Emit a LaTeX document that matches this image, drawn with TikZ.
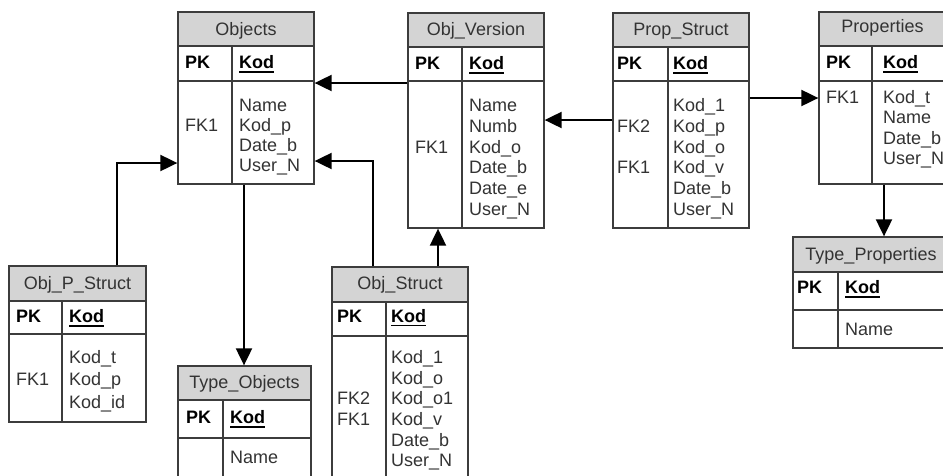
\documentclass[tikz,border=0pt]{standalone}
\usepackage{fontspec}
\setmainfont{Liberation Sans}
\usetikzlibrary{arrows.meta,fit}
\definecolor{hdrfill}{HTML}{D4D4D4}
\definecolor{frame}{HTML}{3C3C3C}
\definecolor{txt}{HTML}{333333}
\tikzset{
  tblbox/.style={draw=frame, line width=1.3pt, inner sep=0pt},
  tblline/.style={draw=frame, line width=1.3pt},
  cell/.style={inner sep=0pt, anchor=base west, text=txt, font=\fontsize{18}{20}\selectfont},
  keycell/.style={inner sep=0pt, anchor=base west, text=black, font=\fontsize{18}{20}\selectfont\bfseries},
  ttl/.style={inner sep=0pt, anchor=base, text=txt, font=\fontsize{18}{20}\selectfont},
  conn/.style={draw=black, line width=2pt, -{Triangle[length=17pt,width=16pt]}},
}
% table frame: id, x0, y0, x1, y1, header bottom, key row bottom, column divider
\newcommand\tblframe[8]{%
  \fill[hdrfill] (#2,#3) rectangle (#4,#6);
  \draw[tblline] (#2,#6) -- (#4,#6) (#2,#7) -- (#4,#7) (#8,#6) -- (#8,#5);
  \node[tblbox, fit={(#2,#3)(#4,#5)}] (#1) {};
}
% column of attribute names: id, x, first baseline, line step, entries
\newcommand\cells[5]{%
  \foreach \entry [count=\i from 0] in {#5}
    \node[cell] (#1-\i) at (#2,{#3+\i*#4}) {\entry};
}
\newbox\kodbox
\newcommand\kodul{\setbox\kodbox\hbox{Kod}\rlap{\rule[-4.2pt]{\wd\kodbox}{1.6pt}}\box\kodbox}

\begin{document}
\begin{tikzpicture}[x=1pt,y=-1pt]
\useasboundingbox (0,0) rectangle (943,475);
\fill[white] (0,0) rectangle (943,475);
\clip (0,0) rectangle (943,475);

% Objects
\tblframe{objects}{178}{12}{314}{184}{46}{81}{232}
\node[ttl] (objects-title) at (246,35) {Objects};
\node[keycell] (objects-pk) at (185,68.5) {PK};
\node[keycell] (objects-key) at (239,68.5) {\kodul};
\node[cell] (objects-fk1) at (185,131.3) {FK1};
\cells{objects-col}{239}{111}{20.3}{Name,Kod\_p,Date\_b,User\_N}

% Obj_Version
\tblframe{objver}{408}{13}{544}{228}{47}{81}{462}
\node[ttl] (objver-title) at (476,35) {Obj\_Version};
\node[keycell] (objver-pk) at (415,69.5) {PK};
\node[keycell] (objver-key) at (469,69.5) {\kodul};
\node[cell] (objver-fk1) at (415,153.1) {FK1};
\cells{objver-col}{469}{111.7}{20.7}{Name,Numb,Kod\_o,Date\_b,Date\_e,User\_N}

% Prop_Struct
\tblframe{propstr}{613}{13}{749}{228}{47}{81}{668}
\node[ttl] (propstr-title) at (681,35) {Prop\_Struct};
\node[keycell] (propstr-pk) at (617,69.5) {PK};
\node[keycell] (propstr-key) at (673,69.5) {\kodul};
\node[cell] (propstr-fk2) at (617,132.4) {FK2};
\node[cell] (propstr-fk1) at (617,173.8) {FK1};
\cells{propstr-col}{673}{111.7}{20.7}{Kod\_1,Kod\_p,Kod\_o,Kod\_v,Date\_b,User\_N}

% Properties
\tblframe{props}{819}{12}{946}{184}{46}{81}{872}
\node[ttl] (props-title) at (882.5,32.5) {Properties};
\node[keycell] (props-pk) at (826,68.5) {PK};
\node[keycell] (props-key) at (883,68.5) {\kodul};
\node[cell] (props-fk1) at (826,103.5) {FK1};
\cells{props-col}{883}{103.5}{20.3}{Kod\_t,Name,Date\_b,User\_N}

% Obj_P_Struct
\tblframe{objp}{9}{266}{146}{422}{301}{334}{62}
\node[ttl] (objp-title) at (77.5,289.5) {Obj\_P\_Struct};
\node[keycell] (objp-pk) at (16,322.7) {PK};
\node[keycell] (objp-key) at (69,322.7) {\kodul};
\node[cell] (objp-fk1) at (16,385.8) {FK1};
\cells{objp-col}{69}{363.3}{22.5}{Kod\_t,Kod\_p,Kod\_id}

% Obj_Struct
\tblframe{objstr}{332}{267}{468}{495}{302}{336}{386}
\node[ttl] (objstr-title) at (400,289.5) {Obj\_Struct};
\node[keycell] (objstr-pk) at (337,322) {PK};
\node[keycell] (objstr-key) at (391,322) {\kodul};
\node[cell] (objstr-fk2) at (337,404.7) {FK2};
\node[cell] (objstr-fk1) at (337,425.4) {FK1};
\cells{objstr-col}{391}{363.3}{20.7}{Kod\_1,Kod\_o,Kod\_o1,Kod\_v,Date\_b,User\_N}

% Type_Objects
\tblframe{typeobj}{178}{366}{311}{495}{400}{438}{223}
\node[ttl] (typeobj-title) at (244.5,388.5) {Type\_Objects};
\node[keycell] (typeobj-pk) at (186,423.3) {PK};
\node[keycell] (typeobj-key) at (230,423.3) {\kodul};
\node[cell] (typeobj-name) at (230,463.3) {Name};

% Type_Properties
\tblframe{typeprop}{793}{237}{949}{348}{272}{310}{838}
\node[ttl] (typeprop-title) at (871,260) {Type\_Properties};
\node[keycell] (typeprop-pk) at (797,293.5) {PK};
\node[keycell] (typeprop-key) at (845,293.5) {\kodul};
\node[cell] (typeprop-name) at (845,335) {Name};

% relationship connectors
\coordinate (k1) at (117,163);
\coordinate (k2) at (244,0);
\coordinate (k3) at (0,83);
\coordinate (k4) at (373,161);
\coordinate (k5) at (438,0);
\coordinate (k6) at (0,120);
\coordinate (k7) at (0,98);
\coordinate (k8) at (884,0);
\draw[conn] (objp.north -| k1) |- (objects.west |- k1);
\draw[conn] (objects.south -| k2) -- (typeobj.north -| k2);
\draw[conn] (objver.west |- k3) -- (objects.east |- k3);
\draw[conn] (objstr.north -| k4) |- (objects.east |- k4);
\draw[conn] (objstr.north -| k5) -- (objver.south -| k5);
\draw[conn] (propstr.west |- k6) -- (objver.east |- k6);
\draw[conn] (propstr.east |- k7) -- (props.west |- k7);
\draw[conn] (props.south -| k8) -- (typeprop.north -| k8);
\end{tikzpicture}
\end{document}
